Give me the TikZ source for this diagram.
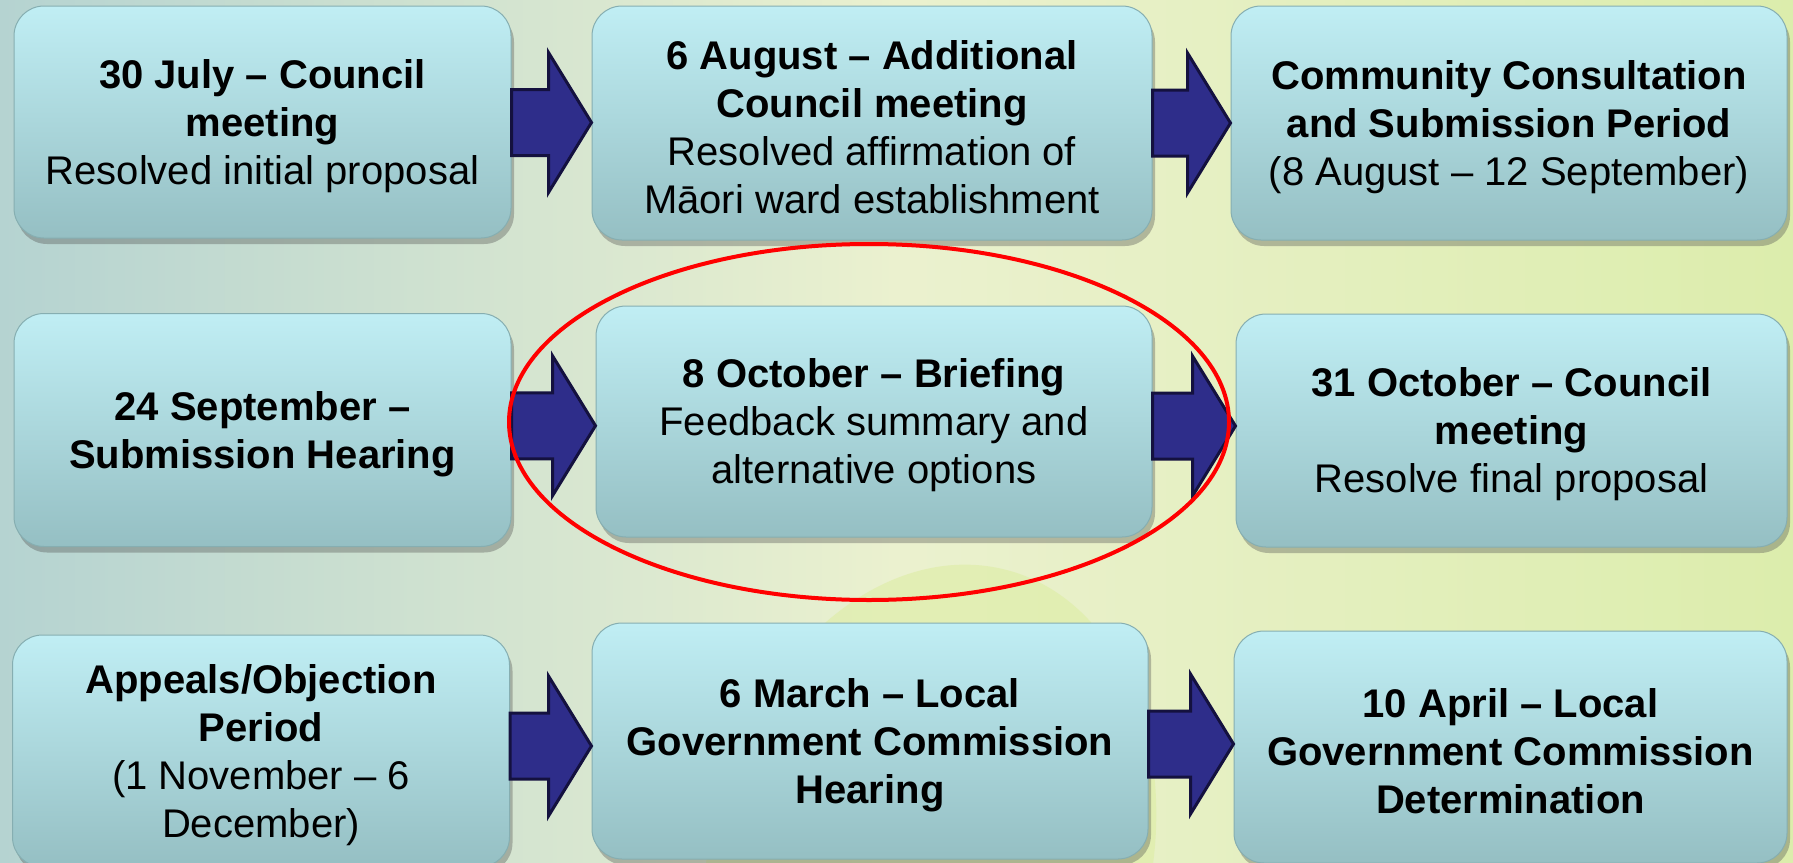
\documentclass[tikz,border=0pt]{standalone}
\usepackage{fontspec}
\setmainfont{Liberation Sans}
\usetikzlibrary{calc,shadows}
\definecolor{boxtop}{HTML}{C0EEF4}
\definecolor{boxbottom}{HTML}{95BFC3}
\definecolor{boxedge}{HTML}{86AEB1}
\definecolor{arrowfill}{HTML}{2E2D8A}
\definecolor{arrowedge}{HTML}{14113F}
\definecolor{bgleft}{HTML}{B5D3D1}
\definecolor{bgmid}{HTML}{EBF1CF}
\definecolor{bgright}{HTML}{DCEDAC}
\definecolor{leafgreen}{HTML}{DDEDA4}
% taller first line, so the text sits a little lower in its box
\newcommand{\lowerline}{\rule{0pt}{18.5pt}}
\tikzset{
  stagebox/.style={draw=boxedge, line width=0.5pt, rounded corners=15pt,
    top color=boxtop, bottom color=boxbottom, align=center, inner sep=0pt,
    drop shadow={shadow xshift=1.5pt, shadow yshift=-3pt, opacity=0.35, fill=black!70}},
  fatarrow/.style={draw=arrowedge, fill=arrowfill, line width=1.5pt,
    to path={let \p1=(\tikztostart), \p2=(\tikztotarget), \n1={(\y1+\y2)/2} in
      ({\x1},{\n1+16.5pt}) -- ({\x2-21.5pt},{\n1+16.5pt}) -- ({\x2-21.5pt},{\n1+35pt})
      -- ({\x2},{\n1}) -- ({\x2-21.5pt},{\n1-35pt}) -- ({\x2-21.5pt},{\n1-16.5pt})
      -- ({\x1},{\n1-16.5pt}) -- cycle}}
}

\begin{document}
\begin{tikzpicture}[x=0.5pt,y=-0.5pt]
    \tikzstyle{every node}=[font=\fontsize{20}{24}\selectfont]
    % background
    \fill[left color=bgleft, right color=bgright, middle color=bgmid] (0,0) rectangle (1793,862);
    \useasboundingbox (0,0) rectangle (1793,862);
    \clip (0,0) rectangle (1793,862);
    \fill[leafgreen, opacity=0.6, rotate around={-15:(930,860)}] (930,860) ellipse [x radius=110pt, y radius=150pt];

    % first row
    \node[stagebox, minimum width=248.5pt, minimum height=116pt] (july) at (262.5,122)
        {\lowerline\textbf{30 July -- Council}\\\textbf{meeting}\\Resolved initial proposal};
    \node[stagebox, minimum width=280pt, minimum height=117pt] (august) at (872,123)
        {\lowerline\textbf{6 August -- Additional}\\\textbf{Council meeting}\\Resolved affirmation of\\Māori ward establishment};
    \node[stagebox, minimum width=278pt, minimum height=117pt] (consult) at (1509,123)
        {\lowerline\textbf{Community Consultation}\\\textbf{and Submission Period}\\(8 August -- 12 September)};
    \draw[fatarrow] (july.east) to (august.west);
    \draw[fatarrow] (august.east) to (consult.west);

    % second row
    \node[stagebox, minimum width=248.5pt, minimum height=116.5pt] (hearing) at (262.5,430)
        {\lowerline\textbf{24 September --}\\\textbf{Submission Hearing}};
    \node[stagebox, minimum width=278pt, minimum height=115.5pt] (briefing) at (874,421.5)
        {\lowerline\textbf{8 October -- Briefing}\\Feedback summary and\\alternative options};
    \node[stagebox, minimum width=275.5pt, minimum height=116.5pt] (final) at (1511.5,430.5)
        {\lowerline\textbf{31 October -- Council}\\\textbf{meeting}\\Resolve final proposal};
    \draw[fatarrow] (hearing.east) to (briefing.west);
    \draw[fatarrow] (briefing.east) to (final.west);

    % third row
    \node[stagebox, minimum width=248.5pt, minimum height=116pt] (appeals) at (261,751)
        {\lowerline\textbf{Appeals/Objection}\\\textbf{Period}\\(1 November -- 6\\December)};
    \node[stagebox, minimum width=278pt, minimum height=118pt] (lgchearing) at (870,741)
        {\lowerline\textbf{6 March -- Local}\\\textbf{Government Commission}\\\textbf{Hearing}};
    \node[stagebox, minimum width=276.5pt, minimum height=116pt] (lgcdecision) at (1510.5,747)
        {\lowerline\textbf{10 April -- Local}\\\textbf{Government Commission}\\\textbf{Determination}};
    \draw[fatarrow] (appeals.east) to (lgchearing.west);
    \draw[fatarrow] (lgchearing.east) to (lgcdecision.west);

    % highlight round the briefing
    \draw[red, line width=2pt] (869,422) ellipse [x radius=180pt, y radius=89pt];
\end{tikzpicture}
\end{document}
